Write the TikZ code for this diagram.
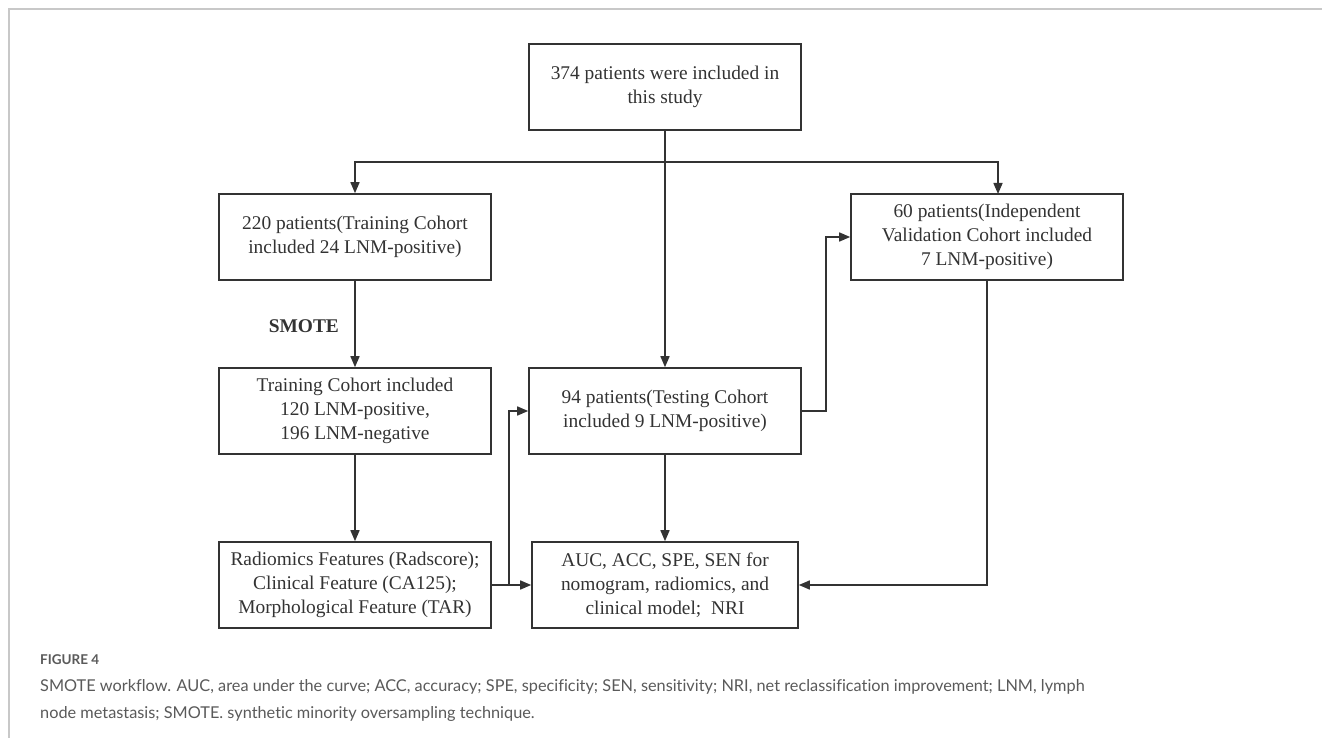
\documentclass[tikz,border=0pt]{standalone}
\usepackage{fontspec}
\setmainfont{Liberation Serif}
\newfontfamily\capfont[Ligatures=NoCommon]{Lato}
\usetikzlibrary{arrows.meta}
\definecolor{ink}{HTML}{333333}
\definecolor{capgray}{HTML}{5A5A5A}
\definecolor{framegray}{HTML}{C8C8C8}
\tikzset{
  box/.style={draw=ink, line width=1.6pt, minimum height=86pt, align=center, inner sep=2pt,
    font=\fontsize{19.4pt}{24pt}\selectfont, text=ink},
  conn/.style={draw=ink, line width=1.5pt, -{Triangle[length=11pt,width=9pt]}},
  plain/.style={draw=ink, line width=1.5pt},
}
\begin{document}
\begin{tikzpicture}[x=1pt,y=-1pt]
\useasboundingbox (0,0) rectangle (1322,738);
\fill[white] (0,0) rectangle (1322,738);
\draw[framegray, line width=1.3pt] (9,738) -- (9,9) -- (1322,9);

\node[box, minimum width=272pt] (top) at (665,87) {374 patients were included in\\this study};
\node[box, minimum width=272pt] (b220) at (355,237) {220 patients(Training Cohort\\included 24 LNM-positive)};
\node[box, minimum width=272pt] (b60) at (987,237) {60 patients(Independent\\Validation Cohort included\\7 LNM-positive)};
\node[box, minimum width=272pt] (train) at (355,411) {Training Cohort included\\120 LNM-positive,\\196 LNM-negative};
\node[box, minimum width=272pt] (test) at (665,411) {94 patients(Testing Cohort\\included 9 LNM-positive)};
\node[box, minimum width=272pt] (rad) at (355,585) {Radiomics Features (Radscore);\\Clinical Feature (CA125);\\Morphological Feature (TAR)};
\node[box, minimum width=266pt] (auc) at (665,585) {AUC, ACC, SPE, SEN for\\nomogram, radiomics, and\\clinical model;~ NRI};

\coordinate (split) at (665,162);
\coordinate (jn) at (509,585);

\draw[plain] (top.south) -- (split);
\draw[conn] (split) -- (355,162) -- (b220.north);
\draw[conn] (split) -- (998,162) -- (998,194);
\draw[conn] (split) -- (test.north);

\draw[conn] (b220.south) -- node[left=12pt, pos=0.53, font=\fontsize{19.4pt}{24pt}\selectfont\bfseries, text=ink] (smote) {SMOTE} (train.north);
\draw[conn] (train.south) -- (rad.north);
\draw[conn] (rad.east) -- (auc.west);
\draw[conn] (jn) -- (jn |- test.west) -- (test.west);
\draw[conn] (test.east) -- (826,411) -- (826,237) -- (b60.west);
\draw[conn] (b60.south) -- (b60.south |- auc.east) -- (auc.east);
\draw[conn] (test.south) -- (auc.north);

\node[anchor=base west, inner sep=0, font=\capfont\fontsize{13.5pt}{16pt}\selectfont\bfseries, text=capgray] (fig) at (40,664) {FIGURE 4};
\node[anchor=north west, inner sep=0, align=left, font=\capfont\fontsize{16.3pt}{27pt}\selectfont, text=capgray] (cap) at (40,679)
  {SMOTE workflow. AUC, area under the curve; ACC, accuracy; SPE, specificity; SEN, sensitivity; NRI, net reclassification improvement; LNM, lymph\\node metastasis; SMOTE. synthetic minority oversampling technique.};
\end{tikzpicture}
\end{document}
